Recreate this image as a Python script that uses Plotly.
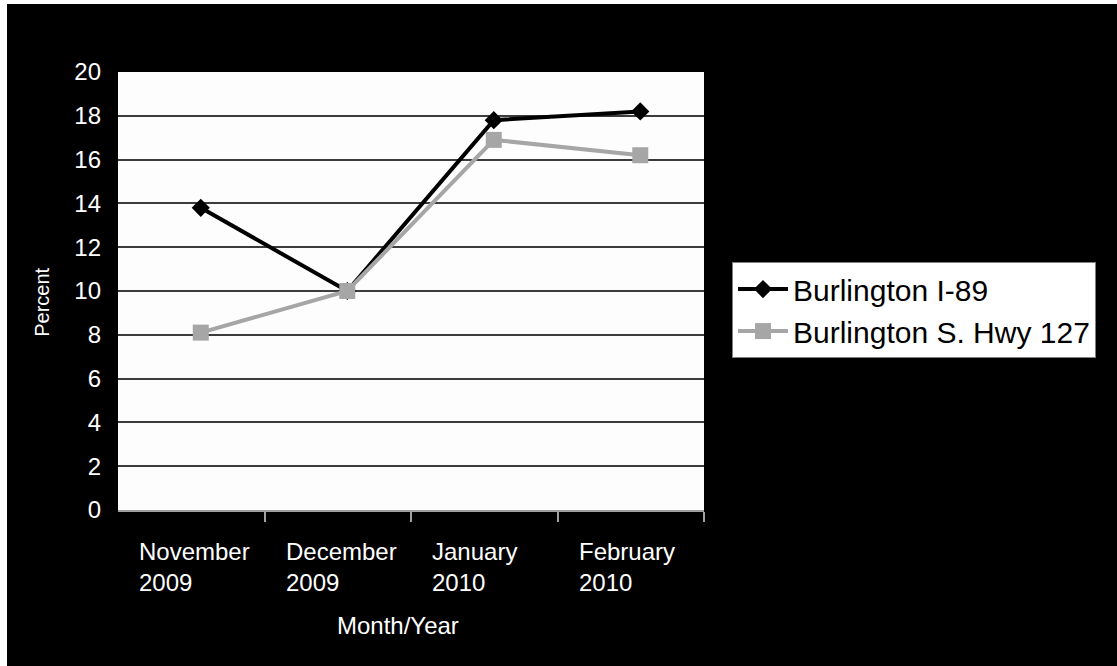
import plotly.graph_objects as go

# Monthly share (%) per monitoring site
months = ["November<br>2009", "December<br>2009", "January<br>2010", "February<br>2010"]
i89 = [13.8, 10.0, 17.8, 18.2]
hwy127 = [8.1, 10.0, 16.9, 16.2]
y_ticks = [0, 2, 4, 6, 8, 10, 12, 14, 16, 18, 20]

FONT = "Liberation Sans, Arial, sans-serif"
idx = list(range(len(months)))

fig = go.Figure()
fig.add_trace(go.Scatter(
    x=idx, y=i89, name="Burlington I-89", mode="lines+markers",
    line=dict(color="#000000", width=4),
    marker=dict(symbol="diamond", size=14, color="#000000"),
))
fig.add_trace(go.Scatter(
    x=idx, y=hwy127, name="Burlington S. Hwy 127", mode="lines+markers",
    line=dict(color="#a6a6a6", width=4),
    marker=dict(symbol="square", size=16, color="#a6a6a6"),
))

# category labels, left-aligned under each month slot
for i, lab in enumerate(months):
    fig.add_annotation(
        x=i - 0.435, y=-0.06, xref="x", yref="paper", text=lab,
        showarrow=False, xanchor="left", yanchor="top", align="left",
        font=dict(family=FONT, size=24, color="white"),
    )

fig.add_annotation(
    x=0.478, y=-0.263, xref="paper", yref="paper", text="Month/Year",
    showarrow=False, xanchor="center", yanchor="middle",
    font=dict(family=FONT, size=24, color="white"),
)
fig.add_annotation(
    x=-0.13, y=0.475, xref="paper", yref="paper", text="Percent",
    showarrow=False, textangle=-90, xanchor="center", yanchor="middle",
    font=dict(family=FONT, size=20, color="white"),
)

# thin white frame along the left and top edges of the page
fig.add_shape(type="rect", xref="paper", yref="paper", x0=-0.25, x1=-0.1894,
              y0=-0.5, y1=1.3, fillcolor="white", line_width=0, layer="above")
fig.add_shape(type="rect", xref="paper", yref="paper", x0=-0.25, x1=1.8,
              y0=1.1553, y1=1.3, fillcolor="white", line_width=0, layer="above")

fig.update_layout(
    width=1117, height=666,
    margin=dict(l=118, r=413, t=72, b=156),
    paper_bgcolor="#000000", plot_bgcolor="#fdfdfd",
    font=dict(family=FONT, color="white"),
    showlegend=True,
    legend=dict(
        x=1.0478, y=0.566, xanchor="left", yanchor="top",
        bgcolor="#ffffff", bordercolor="#7f7f7f", borderwidth=1,
        font=dict(family=FONT, size=30, color="#000000"),
        itemwidth=50,
    ),
)
fig.update_xaxes(
    range=[-0.565, 3.435], showgrid=False, zeroline=False,
    showline=True, linecolor="#a0a0a0", linewidth=2,
    tickmode="array", tickvals=[i + 0.435 for i in idx], ticktext=["" for _ in idx],
    ticks="outside", ticklen=10, tickcolor="#a0a0a0", tickwidth=2,
)
fig.update_yaxes(
    range=[0, 20], tickmode="array", tickvals=y_ticks,
    showgrid=True, gridcolor="#3c3c3c", gridwidth=2, zeroline=False,
    showline=False, ticks="", ticklabelstandoff=16,
    tickfont=dict(family=FONT, size=24, color="white"),
)

fig.write_html("out.html")
